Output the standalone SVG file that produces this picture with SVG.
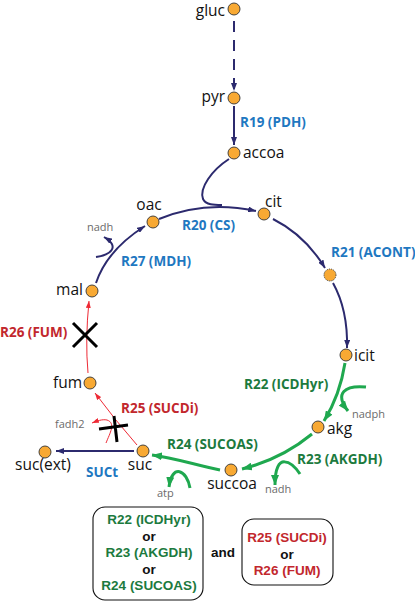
<svg xmlns="http://www.w3.org/2000/svg" width="415" height="601" viewBox="0 0 415 601">
<style>
.n{fill:#F8A933;stroke:#333;stroke-width:0.9}
.lb{font-family:"Open Sans","Liberation Sans",sans-serif;font-size:15.5px;fill:#111}
.rx{font-family:"Open Sans","Liberation Sans",sans-serif;font-size:13.5px;font-weight:bold}
.bt{font-family:"Liberation Sans",Arial,sans-serif;font-size:13.5px;font-weight:bold}
.bl{fill:#1F78C1}.gr{fill:#1C7A3E}.rd{fill:#C2272D}
.sm{font-family:"Open Sans","Liberation Sans",sans-serif;font-size:11px;fill:#6b6b6b}
.nv{fill:none;stroke:#2C2A6E;stroke-width:2}
.gl{fill:none;stroke:#1FA84F;stroke-width:3}
.rl{fill:none;stroke:#EE2A35;stroke-width:1}
.xk{fill:none;stroke:#000;stroke-width:3}
.bx{fill:#fff;stroke:#111;stroke-width:1.1}
</style>
<defs>
<marker id="an" viewBox="0 0 8 6" refX="8" refY="3" markerWidth="8" markerHeight="6" markerUnits="userSpaceOnUse" orient="auto"><path d="M0,0 L8,3 L0,6 z" fill="#2C2A6E"/></marker>
<marker id="ag" viewBox="0 0 10 8" refX="10" refY="4" markerWidth="10" markerHeight="8" markerUnits="userSpaceOnUse" orient="auto"><path d="M0,0 L10,4 L0,8 z" fill="#1FA84F"/></marker>
<marker id="ar" viewBox="0 0 7 5" refX="7" refY="2.5" markerWidth="7" markerHeight="5" markerUnits="userSpaceOnUse" orient="auto"><path d="M0,0 L7,2.5 L0,5 z" fill="#EE2A35"/></marker>
</defs>
<g id="connectors">
<path class="nv" d="M234,21 L234,91" stroke-dasharray="11,8" marker-end="url(#an)"/>
<path class="nv" d="M234,106 L234,145" marker-end="url(#an)"/>
<path class="nv" d="M229,159 C212,170 199,188 203,199 C206,205 214,205 222,205"/>
<path class="nv" d="M159,219 Q205,200 256,211" marker-end="url(#an)"/>
<path class="nv" d="M273,219 Q305,235 325,268" marker-end="url(#an)"/>
<path class="nv" d="M333,283 Q348,310 347,348" marker-end="url(#an)"/>
<path class="nv" d="M96,283 C102,265 115,245 145,226" marker-end="url(#an)"/>
<path class="nv" d="M96,257 C110,255 121,247 104,237" marker-end="url(#an)"/>
<path class="nv" d="M134,451 L56,451" stroke-width="2.6" marker-end="url(#an)"/>
<path class="gl" d="M345,363 Q340,395 324,421" marker-end="url(#ag)"/>
<path class="gl" d="M366,387 C345,385 334,393 348,411" marker-end="url(#ag)"/>
<path class="gl" d="M312,434 C295,448 270,462 242,469" marker-end="url(#ag)"/>
<path class="gl" d="M300,474 C292,462 275,450 275,485" marker-end="url(#ag)"/>
<path class="gl" d="M220,470 C195,465 175,458 152,455" marker-end="url(#ag)"/>
<path class="gl" d="M190,488 C187,470 172,463 169,487" marker-end="url(#ag)"/>
<path class="rl" d="M88,373 Q85,340 89,301" marker-end="url(#ar)"/>
<path class="rl" d="M137,445 Q115,420 95,393" marker-end="url(#ar)"/>
<path class="rl" d="M106,443 C110,433 116,423 107,420 C102,419 97,421 92,423" marker-end="url(#ar)"/>
<path class="xk" d="M73,323 L97,347 M97,323 L73,347"/>
<path class="xk" d="M99,429 L128,425 M114,416 L117,442"/>
</g>
<g id="gluc"><circle class="n" cx="234" cy="9" r="6"/><text class="lb" x="225" y="16" text-anchor="end" font-size="15">gluc</text></g>
<g id="pyr"><circle class="n" cx="234" cy="98" r="6"/><text class="lb" x="225" y="102" text-anchor="end">pyr</text></g>
<g id="accoa"><circle class="n" cx="234" cy="153" r="6"/><text class="lb" x="243" y="158">accoa</text></g>
<g id="cit"><circle class="n" cx="264" cy="214" r="6"/><text class="lb" x="265" y="207">cit</text></g>
<g id="R21node"><circle class="n" cx="330" cy="275" r="6" stroke-dasharray="1.2,1"/></g>
<g id="icit"><circle class="n" cx="346" cy="355" r="6"/><text class="lb" x="354" y="361">icit</text></g>
<g id="akg"><circle class="n" cx="318" cy="427" r="6"/><text class="lb" x="327" y="434">akg</text></g>
<g id="succoa"><circle class="n" cx="231" cy="470" r="6"/><text class="lb" x="232" y="489" text-anchor="middle">succoa</text></g>
<g id="suc"><circle class="n" cx="143" cy="451" r="6"/><text class="lb" x="140" y="470" text-anchor="middle">suc</text></g>
<g id="sucext"><circle class="n" cx="45" cy="452" r="6"/><text class="lb" x="43" y="470" text-anchor="middle">suc(ext)</text></g>
<g id="fum"><circle class="n" cx="90" cy="383" r="6"/><text class="lb" x="82" y="388" text-anchor="end">fum</text></g>
<g id="mal"><circle class="n" cx="92" cy="291" r="6"/><text class="lb" x="83" y="295" text-anchor="end">mal</text></g>
<g id="oac"><circle class="n" cx="153" cy="222" r="6"/><text class="lb" x="149" y="210" text-anchor="middle">oac</text></g>
<g id="labels">
<text class="rx bl" x="240" y="127">R19 (PDH)</text>
<text class="rx bl" x="182" y="230">R20 (CS)</text>
<text class="rx bl" x="331" y="257">R21 (ACONT)</text>
<text class="rx bl" x="121" y="266">R27 (MDH)</text>
<text class="rx rd" x="0" y="337">R26 (FUM)</text>
<text class="rx rd" x="121" y="413">R25 (SUCDi)</text>
<text class="rx bl" x="86" y="477">SUCt</text>
<text class="rx gr" x="167" y="449">R24 (SUCOAS)</text>
<text class="rx gr" x="244" y="389">R22 (ICDHyr)</text>
<text class="rx gr" x="297" y="464">R23 (AKGDH)</text>
<text class="sm" x="87" y="231">nadh</text>
<text class="sm" x="55" y="428">fadh2</text>
<text class="sm" x="352" y="418">nadph</text>
<text class="sm" x="265" y="493">nadh</text>
<text class="sm" x="157" y="497">atp</text>
</g>
<g id="box1">
<rect class="bx" x="93" y="507" width="110" height="93" rx="12"/>
<text class="bt gr" x="149" y="524" text-anchor="middle">R22 (ICDHyr)</text>
<text class="bt" x="149" y="540.5" text-anchor="middle" fill="#111">or</text>
<text class="bt gr" x="149" y="557" text-anchor="middle">R23 (AKGDH)</text>
<text class="bt" x="149" y="573.5" text-anchor="middle" fill="#111">or</text>
<text class="bt gr" x="149" y="590" text-anchor="middle">R24 (SUCOAS)</text>
</g>
<g id="and"><text class="bt" x="223" y="557" text-anchor="middle" fill="#111">and</text></g>
<g id="box2">
<rect class="bx" x="242" y="519" width="91" height="66" rx="12"/>
<text class="bt rd" x="287" y="542" text-anchor="middle">R25 (SUCDi)</text>
<text class="bt" x="287" y="558.5" text-anchor="middle" fill="#111">or</text>
<text class="bt rd" x="287" y="575" text-anchor="middle">R26 (FUM)</text>
</g>
</svg>
